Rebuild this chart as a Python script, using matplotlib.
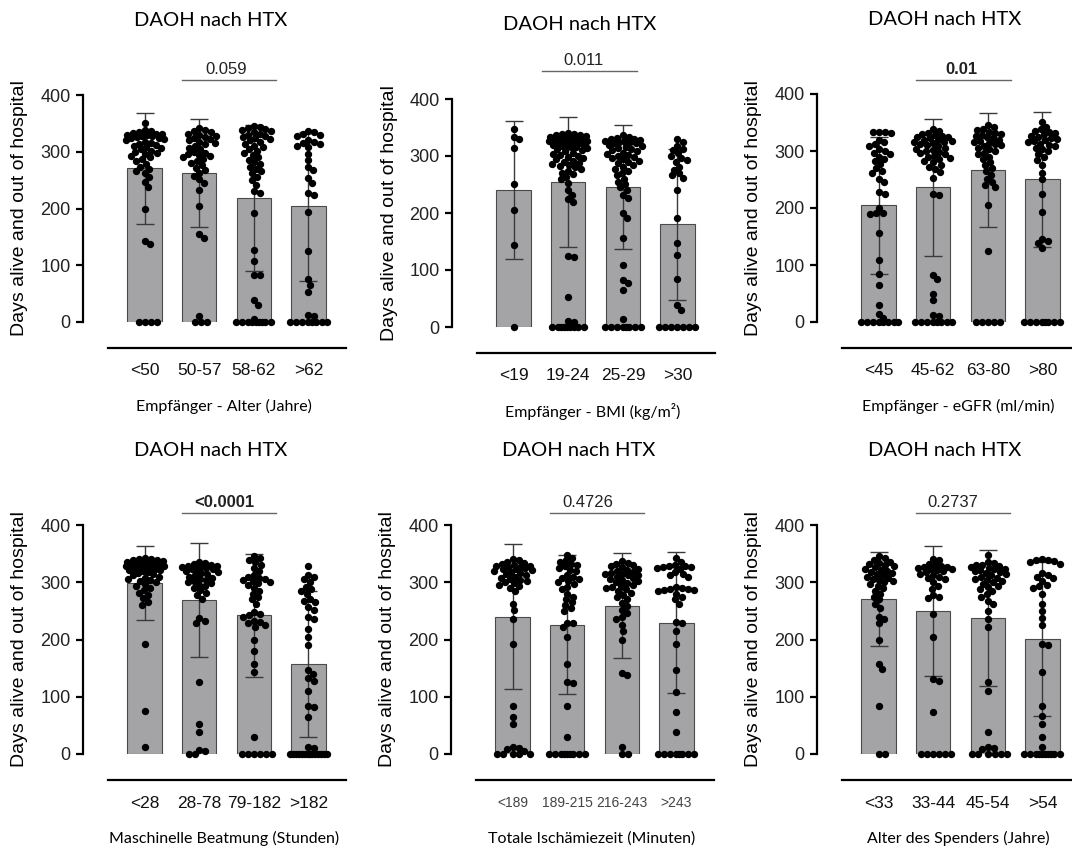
import matplotlib.pyplot as plt
import numpy as np

# ---------------- data ----------------
title = "DAOH nach HTX"
ylabel = "Days alive and out of hospital"

recip_age_labels = ["<50", "50-57", "58-62", ">62"]
recip_age_mean = [271, 262, 219, 204]
recip_age_sd = [98, 95, 129, 131]
recip_age_dots = [
    [350, 338, 336, 334, 333, 332, 331, 330, 329, 328, 327, 326, 325, 324, 322, 320, 318, 316, 314, 312,
     310, 308, 306, 304, 302, 300, 298, 296, 293, 290, 287, 283, 279, 274, 270, 266, 262, 255, 247, 238,
     200, 142, 137, 0, 0, 0, 0],
    [341, 338, 336, 334, 332, 330, 328, 326, 324, 322, 320, 318, 316, 313, 310, 307, 304, 300, 298, 296,
     294, 292, 290, 287, 284, 281, 277, 272, 268, 263, 258, 252, 245, 233, 205, 155, 148, 10, 0, 0, 0],
    [345, 344, 342, 340, 338, 336, 334, 332, 330, 328, 326, 324, 322, 320, 317, 314, 311, 308, 305, 302,
     298, 294, 290, 286, 282, 278, 274, 270, 266, 262, 256, 250, 242, 230, 227, 192, 127, 108, 83, 83,
     38, 30, 5, 0, 0, 0, 0, 0, 0, 0, 0, 0],
    [336, 334, 332, 330, 328, 320, 318, 316, 313, 311, 309, 296, 285, 274, 268, 253, 245, 228, 223, 193,
     125, 75, 65, 52, 12, 10, 0, 0, 0, 0, 0, 0, 0, 0],
]

bmi_labels = ["<19", "19-24", "25-29", ">30"]
bmi_mean = [240, 255, 246, 180]
bmi_sd = [121, 114, 109, 132]
bmi_dots = [
    [348, 334, 330, 314, 250, 206, 143, 0],
    [340, 339, 338, 337, 336, 335, 334, 333, 332, 331, 330, 329, 328, 327, 326, 325, 324, 323, 322, 321,
     320, 319, 318, 317, 316, 315, 314, 312, 310, 308, 306, 304, 302, 300, 298, 296, 294, 292, 290, 288,
     286, 284, 282, 280, 277, 274, 271, 268, 264, 260, 253, 240, 232, 225, 220, 125, 122, 52, 10, 8,
     0, 0, 0, 0, 0, 0, 0, 0, 0],
    [336, 334, 332, 330, 329, 328, 327, 326, 325, 324, 323, 322, 320, 318, 316, 314, 312, 310, 308, 306,
     304, 302, 300, 298, 296, 294, 292, 290, 287, 284, 281, 278, 274, 270, 266, 260, 255, 250, 245, 240,
     232, 226, 200, 192, 157, 108, 83, 78, 65, 14, 0, 0, 0, 0, 0, 0, 0, 0],
    [330, 325, 317, 313, 310, 305, 300, 296, 293, 290, 281, 276, 270, 266, 262, 240, 192, 147, 127, 84,
     38, 30, 0, 0, 0, 0, 0, 0, 0],
]

egfr_labels = ["<45", "45-62", "63-80", ">80"]
egfr_mean = [205, 236, 266, 250]
egfr_sd = [120, 121, 100, 118]
egfr_dots = [
    [334, 333, 333, 332, 320, 315, 312, 308, 303, 300, 297, 294, 290, 286, 282, 278, 270, 265, 262, 250,
     245, 228, 225, 200, 192, 191, 190, 157, 108, 84, 65, 30, 14, 7, 0, 0, 0, 0, 0, 0, 0, 0],
    [338, 335, 332, 330, 328, 326, 325, 324, 322, 320, 319, 318, 316, 315, 314, 312, 310, 308, 306, 304,
     302, 300, 298, 296, 294, 292, 290, 288, 286, 283, 280, 276, 272, 268, 263, 252, 225, 222, 83, 75,
     50, 38, 12, 10, 0, 0, 0, 0, 0, 0, 0, 0],
    [345, 342, 338, 336, 334, 332, 330, 328, 326, 324, 322, 320, 318, 316, 314, 312, 310, 308, 306, 303,
     300, 297, 294, 290, 286, 280, 275, 270, 265, 258, 250, 245, 240, 236, 205, 125, 0, 0, 0, 0, 0],
    [350, 342, 338, 335, 333, 331, 329, 327, 325, 323, 321, 319, 317, 315, 313, 311, 309, 306, 303, 300,
     295, 290, 285, 276, 262, 250, 225, 193, 145, 142, 138, 130, 0, 0, 0, 0, 0, 0, 0, 0],
]

vent_labels = ["<28", "28-78", "79-182", ">182"]
vent_mean = [299, 269, 242, 157]
vent_sd = [65, 99, 107, 128]
vent_dots = [
    [342, 341, 340, 339, 338, 337, 336, 335, 334, 333, 332, 331, 330, 329, 328, 327, 326, 325, 324, 323,
     322, 321, 320, 318, 316, 314, 312, 310, 308, 306, 304, 302, 300, 297, 294, 290, 286, 282, 278, 272,
     265, 260, 192, 75, 12],
    [336, 334, 332, 330, 329, 328, 327, 326, 325, 324, 323, 322, 320, 318, 316, 314, 312, 310, 308, 306,
     304, 302, 300, 298, 296, 293, 290, 286, 282, 277, 271, 237, 232, 228, 125, 52, 38, 7, 5, 0, 0],
    [345, 342, 338, 335, 330, 325, 320, 312, 310, 308, 306, 304, 302, 300, 298, 295, 290, 285, 280, 275,
     270, 262, 248, 245, 242, 240, 232, 230, 228, 226, 222, 200, 180, 157, 143, 30, 0, 0, 0, 0, 0, 0],
    [328, 313, 309, 305, 300, 292, 288, 285, 280, 271, 268, 265, 256, 252, 240, 235, 218, 205, 191, 147,
     140, 133, 128, 110, 84, 82, 65, 12, 10, 0, 0, 0, 0, 0, 0, 0, 0, 0, 0, 0, 0, 0, 0],
]

isch_labels = ["<189", "189-215", "216-243", ">243"]
isch_mean = [240, 226, 259, 229]
isch_sd = [126, 122, 92, 123]
isch_dots = [
    [340, 338, 336, 334, 332, 330, 329, 328, 327, 326, 325, 324, 323, 322, 320, 318, 316, 314, 312, 310,
     308, 306, 304, 302, 300, 298, 296, 294, 290, 285, 262, 252, 235, 192, 83, 65, 52, 12, 10, 8,
     5, 0, 0, 0, 0, 0],
    [348, 342, 338, 335, 332, 330, 328, 325, 322, 320, 312, 310, 308, 305, 302, 300, 297, 292, 288, 280,
     275, 270, 265, 260, 255, 250, 229, 228, 222, 205, 157, 126, 124, 84, 30, 0, 0, 0, 0, 0, 0, 0, 0, 0],
    [337, 334, 332, 330, 328, 326, 324, 322, 320, 318, 316, 315, 314, 313, 312, 310, 308, 306, 304, 302,
     300, 298, 296, 294, 292, 290, 288, 285, 282, 278, 275, 270, 264, 258, 252, 246, 240, 236, 225, 215,
     200, 142, 138, 12, 0, 0],
    [342, 335, 330, 329, 328, 327, 326, 325, 324, 318, 315, 312, 310, 292, 290, 289, 288, 287, 286, 285,
     280, 275, 270, 262, 230, 229, 215, 192, 147, 108, 74, 38, 0, 0, 0, 0, 0, 0, 0, 0],
]

donor_age_labels = ["<33", "33-44", "45-54", ">54"]
donor_age_mean = [270, 250, 237, 201]
donor_age_sd = [82, 114, 119, 135]
donor_age_dots = [
    [345, 342, 339, 336, 334, 332, 330, 328, 326, 324, 322, 320, 318, 316, 314, 312, 310, 308, 306, 304,
     302, 300, 297, 294, 290, 285, 280, 275, 270, 262, 255, 240, 235, 228, 200, 157, 148, 84, 0, 0],
    [340, 338, 332, 330, 328, 327, 326, 325, 324, 323, 322, 320, 318, 315, 312, 310, 308, 305, 300, 293,
     288, 278, 275, 272, 245, 205, 131, 128, 74, 0, 0, 0, 0, 0, 0],
    [348, 335, 333, 331, 330, 328, 326, 325, 324, 323, 322, 320, 318, 316, 314, 312, 310, 308, 306, 304,
     302, 300, 297, 294, 291, 288, 284, 280, 275, 268, 262, 250, 235, 222, 125, 110, 38, 12, 10, 8,
     0, 0, 0, 0, 0, 0],
    [340, 339, 338, 337, 335, 332, 316, 312, 310, 308, 302, 296, 293, 290, 280, 262, 250, 238, 225, 193,
     191, 143, 84, 67, 52, 30, 12, 0, 0, 0, 0, 0, 0, 0, 0, 0, 0],
]

xlabels = [
    "Empfänger - Alter (Jahre)",
    "Empfänger - BMI (kg/m²)",
    "Empfänger - eGFR (ml/min)",
    "Maschinelle Beatmung (Stunden)",
    "Totale Ischämiezeit (Minuten)",
    "Alter des Spenders (Jahre)",
]
p_values = ["0.059", "0.011", "0.01", "<0.0001", "0.4726", "0.2737"]
p_bold = [False, False, True, True, False, False]

panels = [
    (recip_age_labels, recip_age_mean, recip_age_sd, recip_age_dots),
    (bmi_labels, bmi_mean, bmi_sd, bmi_dots),
    (egfr_labels, egfr_mean, egfr_sd, egfr_dots),
    (vent_labels, vent_mean, vent_sd, vent_dots),
    (isch_labels, isch_mean, isch_sd, isch_dots),
    (donor_age_labels, donor_age_mean, donor_age_sd, donor_age_dots),
]

# ---------------- layout (pixels in an 1072x850 canvas) ----------------
W, H = 1072, 850
X_LO, X_HI = -1.13, 3.69
PX_PER_X = 54.6
AX_W = (X_HI - X_LO) * PX_PER_X
# (spine x, y of 0, y of 400)
frames = [(83, 322, 95), (452, 327, 99), (817, 322, 94),
          (83, 754, 525), (451, 754, 525), (817, 754, 525)]
bracket_y = [426, 449, 425, 421, 421, 421]
bracket_x = [(0.68, 2.41), (0.51, 2.26), (0.69, 2.42), (0.68, 2.41), (0.68, 2.41), (0.69, 2.40)]
p_text_x = [1.50, 1.28, 1.51, 1.46, 1.38, 1.35]

BAR_COLOR = "#a4a4a6"
TICK_FONT = ["Liberation Sans", "DejaVu Sans"]
LABEL_FONT = ["Lato", "DejaVu Sans"]


def swarm(values, xscale, yscale, diam=5.8, max_half=19.0):
    """Spread points sideways (pixel space) so they overlap as little as possible."""
    values = np.asarray(values, dtype=float)
    steps = np.arange(0, max_half + 0.01, 0.5)
    cands = np.concatenate([[0.0], np.ravel(np.column_stack([steps[1:], -steps[1:]]))])
    placed_x, placed_y = [], []
    offs = np.zeros(len(values))
    for i in np.argsort(-values, kind="stable"):
        y = values[i] * yscale
        best, best_gap = 0.0, -1.0
        px = np.array(placed_x)
        py = np.array(placed_y)
        for c in cands:
            gap = np.inf if len(px) == 0 else np.min(np.hypot(px - c, py - y))
            if gap >= diam:
                best = c
                break
            if gap > best_gap:
                best_gap, best = gap, c
        offs[i] = best / xscale
        placed_x.append(best)
        placed_y.append(y)
    return offs


fig = plt.figure(figsize=(W / 100, H / 100), dpi=100)

for k, (labels, mean, sd, dots) in enumerate(panels):
    left, y0, y400 = frames[k]
    ax = fig.add_axes([left / W, (H - y0) / H, AX_W / W, (y0 - y400) / H])
    yscale = (y0 - y400) / 400
    x = np.arange(len(labels))

    ax.bar(x, mean, width=0.63, color=BAR_COLOR, edgecolor="#4a4a4a", linewidth=0.8, zorder=2)
    ax.errorbar(x, mean, yerr=sd, fmt="none", ecolor="#3a3a3a", elinewidth=1.0,
                capsize=6.5, capthick=1.0, zorder=3, clip_on=False)
    for xi, vals in zip(x, dots):
        offs = swarm(vals, PX_PER_X, yscale)
        ax.scatter(xi + offs, vals, s=28, color="black", linewidths=0, zorder=4, clip_on=False)

    ax.set_xlim(X_LO, X_HI)
    ax.set_ylim(0, 400)
    ax.set_yticks([0, 100, 200, 300, 400])
    ax.spines["top"].set_visible(False)
    ax.spines["right"].set_visible(False)
    ax.spines["left"].set_bounds(0, 400)
    ax.spines["left"].set_linewidth(1.6)
    ax.spines["bottom"].set_position(("data", -46))
    ax.spines["bottom"].set_bounds(-0.68, X_HI)
    ax.spines["bottom"].set_linewidth(1.6)
    ax.tick_params(axis="y", length=5, width=1.6, pad=4, labelsize=13, labelcolor="#222222")
    for t in ax.get_yticklabels():
        t.set_family(TICK_FONT)

    ax.set_xticks(x)
    if k == 4:
        ax.set_xticklabels(labels, fontsize=10, color="#444444", family=TICK_FONT)
    else:
        ax.set_xticklabels(labels, fontsize=12.5, color="#111111", family=TICK_FONT)
    ax.tick_params(axis="x", length=0, pad=11)

    ax.text(-63 / AX_W, 0.5, ylabel, transform=ax.transAxes, rotation=90, ha="center", va="center",
            fontsize=14, family=TICK_FONT, color="black")

    # title and x label placed relative to the value axis
    ax.annotate(title, xy=(1.2, 400), xycoords="data", xytext=(0, 53.5), textcoords="offset points",
                ha="center", va="center", fontsize=14.5, family=LABEL_FONT, annotation_clip=False)
    ax.annotate(xlabels[k], xy=(1.45, 0), xycoords="data", xytext=(0, -61), textcoords="offset points",
                ha="center", va="center", fontsize=11.5, family=LABEL_FONT, annotation_clip=False)

    # significance bracket
    bx0, bx1 = bracket_x[k]
    ax.plot([bx0, bx1], [bracket_y[k], bracket_y[k]], color="#666666", lw=1.0, clip_on=False)
    ax.annotate(p_values[k], xy=(p_text_x[k], bracket_y[k]), xycoords="data", xytext=(0, 7.5),
                textcoords="offset points", ha="center", va="center", fontsize=12, color="#222222",
                family=TICK_FONT, fontweight="bold" if p_bold[k] else "normal", annotation_clip=False)

fig.savefig("out.png", dpi=100)
